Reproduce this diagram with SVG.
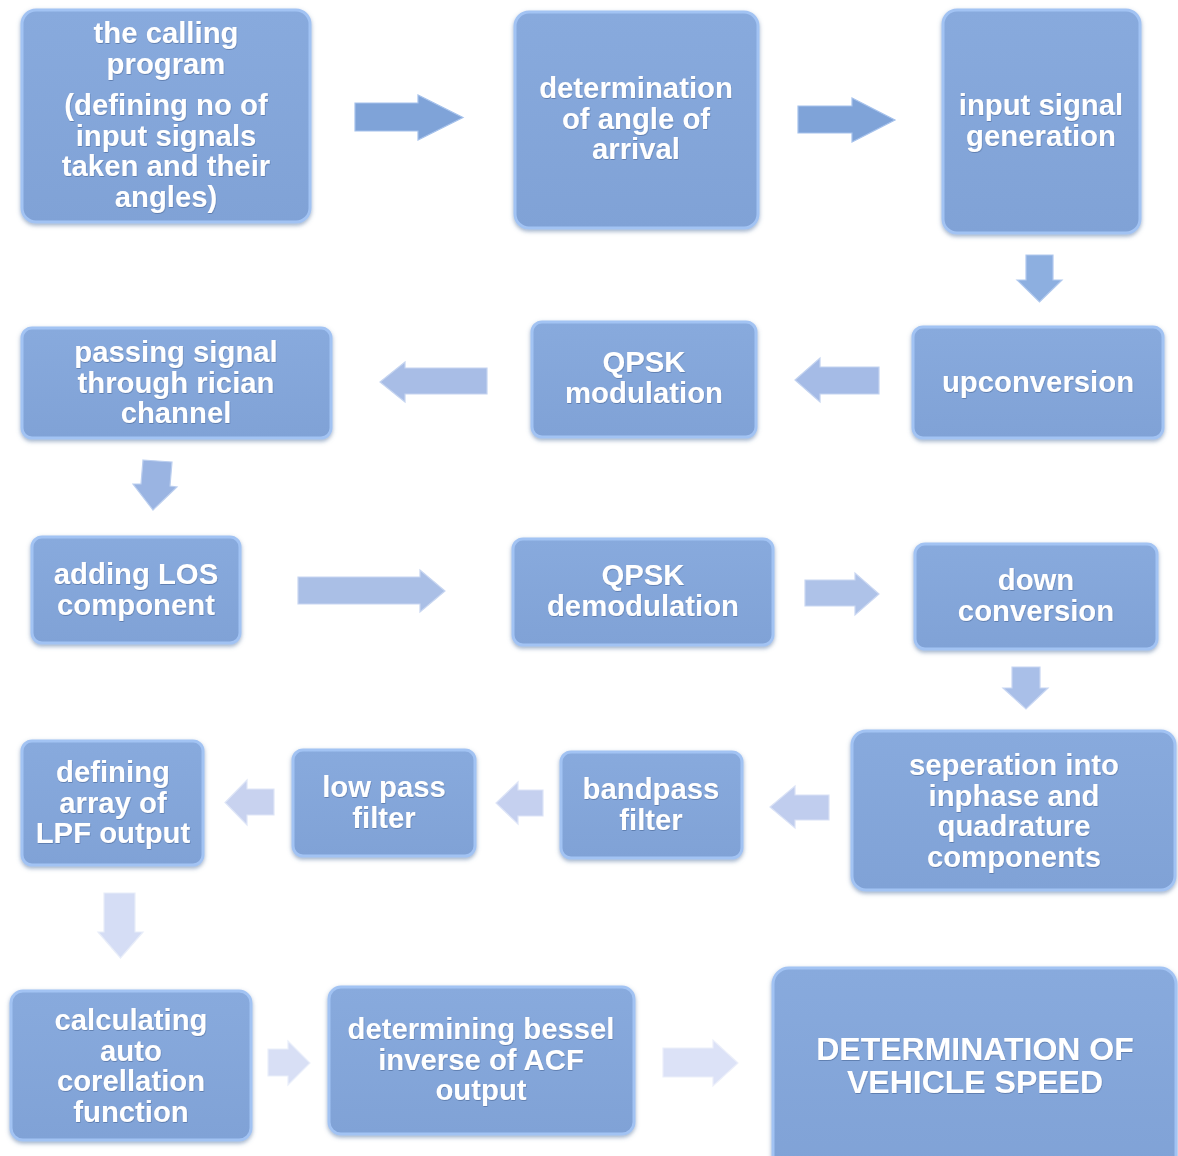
<svg xmlns="http://www.w3.org/2000/svg" width="1178" height="1156" viewBox="0 0 1178 1156">
<defs>
<linearGradient id="bg" x1="0" y1="0" x2="0" y2="1">
<stop offset="0" stop-color="#88aadd"/>
<stop offset="1" stop-color="#80a2d6"/>
</linearGradient>
<filter id="sh" x="-10%" y="-10%" width="120%" height="125%">
<feDropShadow dx="0" dy="2" stdDeviation="2" flood-color="#4f6f9f" flood-opacity="0.55"/>
</filter>
<filter id="ts" x="-5%" y="-5%" width="110%" height="120%">
<feDropShadow dx="0.5" dy="1" stdDeviation="0.6" flood-color="#3e5a88" flood-opacity="0.5"/>
</filter>
</defs>
<style>
.box{fill:url(#bg);stroke:#a2c3f3;stroke-width:3;filter:url(#sh)}
.t{font-family:"Liberation Sans",Arial,sans-serif;font-weight:bold;font-size:29.3px;fill:#ffffff;text-anchor:middle;filter:url(#ts)}
.big{font-size:32px}
.ar{stroke-width:1.2;stroke-linejoin:miter}
</style>
<rect width="1178" height="1156" fill="#ffffff"/>

<g id="connectors">
<polygon class="ar" fill="#7fa3d8" stroke="#a6c2ec" points="355,103 418,103 418,95 463,117.5 418,140 418,131 355,131"/>
<polygon class="ar" fill="#7fa3d8" stroke="#a6c2ec" points="798,106 852,106 852,98 895,120 852,142 852,133 798,133"/>
<polygon class="ar" fill="#8dafe0" stroke="#b1c9ee" points="1026,255 1053,255 1053,280 1062,280 1039.5,302 1017,280 1026,280"/>
<polygon class="ar" fill="#a5bbe6" stroke="#c3d3f0" points="879,367 820,367 820,358 795,380 820,402 820,394 879,394"/>
<polygon class="ar" fill="#a8bde6" stroke="#c5d4f0" points="487,368 405,368 405,362 380,382 405,402 405,394 487,394"/>
<polygon class="ar" fill="#9ab4e2" stroke="#bccfef" points="143,460 172,462 170,486 177,487 153,510 133,484 141,484"/>
<polygon class="ar" fill="#aabfe6" stroke="#c8d6f1" points="298,577 420,577 420,570 445,591 420,612 420,604 298,604"/>
<polygon class="ar" fill="#aec2e8" stroke="#cad7f2" points="805,580 855,580 855,573 879,594 855,615 855,606 805,606"/>
<polygon class="ar" fill="#a9bfe8" stroke="#c8d6f2" points="1012,667 1040,667 1040,688 1048,688 1026,709 1003,688 1012,688"/>
<polygon class="ar" fill="#c0cdee" stroke="#dae2f6" points="829,795 795,795 795,786 770,807 795,828 795,820 829,820"/>
<polygon class="ar" fill="#c5d0ef" stroke="#dde4f7" points="543,790 518,790 518,782 496,803 518,824 518,816 543,816"/>
<polygon class="ar" fill="#c8d2ef" stroke="#dfe6f7" points="274,789 247,789 247,780 225,802.5 247,825 247,815 274,815"/>
<polygon class="ar" fill="#d5ddf5" stroke="#e8edf9" points="104,893 135,893 135,932 143,932 120.5,958 98,932 104,932"/>
<polygon class="ar" fill="#d8dff5" stroke="#eaeffa" points="268,1049 288,1049 288,1041 310,1063 288,1085 288,1076 268,1076"/>
<polygon class="ar" fill="#dce2f7" stroke="#eceffa" points="663,1048 713,1048 713,1040 738,1063 713,1086 713,1077 663,1077"/>
</g>

<g id="n1"><rect class="box" x="22" y="10" width="288" height="212" rx="14"/>
<text class="t" x="166" y="43">the calling<tspan x="166" dy="30.5">program</tspan><tspan x="166" dy="41">(defining no of</tspan><tspan x="166" dy="31">input signals</tspan><tspan x="166" dy="30.5">taken and their</tspan><tspan x="166" dy="31">angles)</tspan></text></g>

<g id="n2"><rect class="box" x="515" y="12" width="243" height="216" rx="14"/>
<text class="t" x="636" y="98">determination<tspan x="636" dy="30.5">of angle of</tspan><tspan x="636" dy="30.5">arrival</tspan></text></g>

<g id="n3"><rect class="box" x="943" y="10" width="197" height="223" rx="14"/>
<text class="t" x="1041" y="115">input signal<tspan x="1041" dy="31">generation</tspan></text></g>

<g id="n4"><rect class="box" x="913" y="327" width="250" height="111" rx="10"/>
<text class="t" x="1038" y="392">upconversion</text></g>

<g id="n5"><rect class="box" x="532" y="322" width="224" height="115" rx="10"/>
<text class="t" x="644" y="372">QPSK<tspan x="644" dy="31">modulation</tspan></text></g>

<g id="n6"><rect class="box" x="22" y="328" width="309" height="110" rx="10"/>
<text class="t" x="176" y="362">passing signal<tspan x="176" dy="30.5">through rician</tspan><tspan x="176" dy="30.5">channel</tspan></text></g>

<g id="n7"><rect class="box" x="32" y="537" width="208" height="106" rx="10"/>
<text class="t" x="136" y="584">adding LOS<tspan x="136" dy="30.5">component</tspan></text></g>

<g id="n8"><rect class="box" x="513" y="539" width="260" height="106" rx="10"/>
<text class="t" x="643" y="585">QPSK<tspan x="643" dy="31">demodulation</tspan></text></g>

<g id="n9"><rect class="box" x="915" y="544" width="242" height="105" rx="10"/>
<text class="t" x="1036" y="590">down<tspan x="1036" dy="30.5">conversion</tspan></text></g>

<g id="n10"><rect class="box" x="852" y="731" width="323" height="159" rx="14"/>
<text class="t" x="1014" y="775">seperation into<tspan x="1014" dy="30.5">inphase and</tspan><tspan x="1014" dy="30.5">quadrature</tspan><tspan x="1014" dy="30.5">components</tspan></text></g>

<g id="n11"><rect class="box" x="561" y="752" width="181" height="106" rx="10"/>
<text class="t" x="651" y="799">bandpass<tspan x="651" dy="31">filter</tspan></text></g>

<g id="n12"><rect class="box" x="293" y="750" width="182" height="106" rx="10"/>
<text class="t" x="384" y="797">low pass<tspan x="384" dy="31">filter</tspan></text></g>

<g id="n13"><rect class="box" x="22" y="741" width="181" height="124" rx="10"/>
<text class="t" x="113" y="782">defining<tspan x="113" dy="30.5">array of</tspan><tspan x="113" dy="30.5">LPF output</tspan></text></g>

<g id="n14"><rect class="box" x="11" y="991" width="240" height="149" rx="12"/>
<text class="t" x="131" y="1030">calculating<tspan x="131" dy="30.5">auto</tspan><tspan x="131" dy="30.5">corellation</tspan><tspan x="131" dy="30.5">function</tspan></text></g>

<g id="n15"><rect class="box" x="329" y="987" width="305" height="147" rx="12"/>
<text class="t" x="481" y="1039">determining bessel<tspan x="481" dy="30.5">inverse of ACF</tspan><tspan x="481" dy="30.5">output</tspan></text></g>

<g id="n16"><rect class="box" x="773" y="968" width="403" height="205" rx="16"/>
<text class="t big" x="975" y="1060">DETERMINATION OF<tspan x="975" dy="33">VEHICLE SPEED</tspan></text></g>
</svg>
